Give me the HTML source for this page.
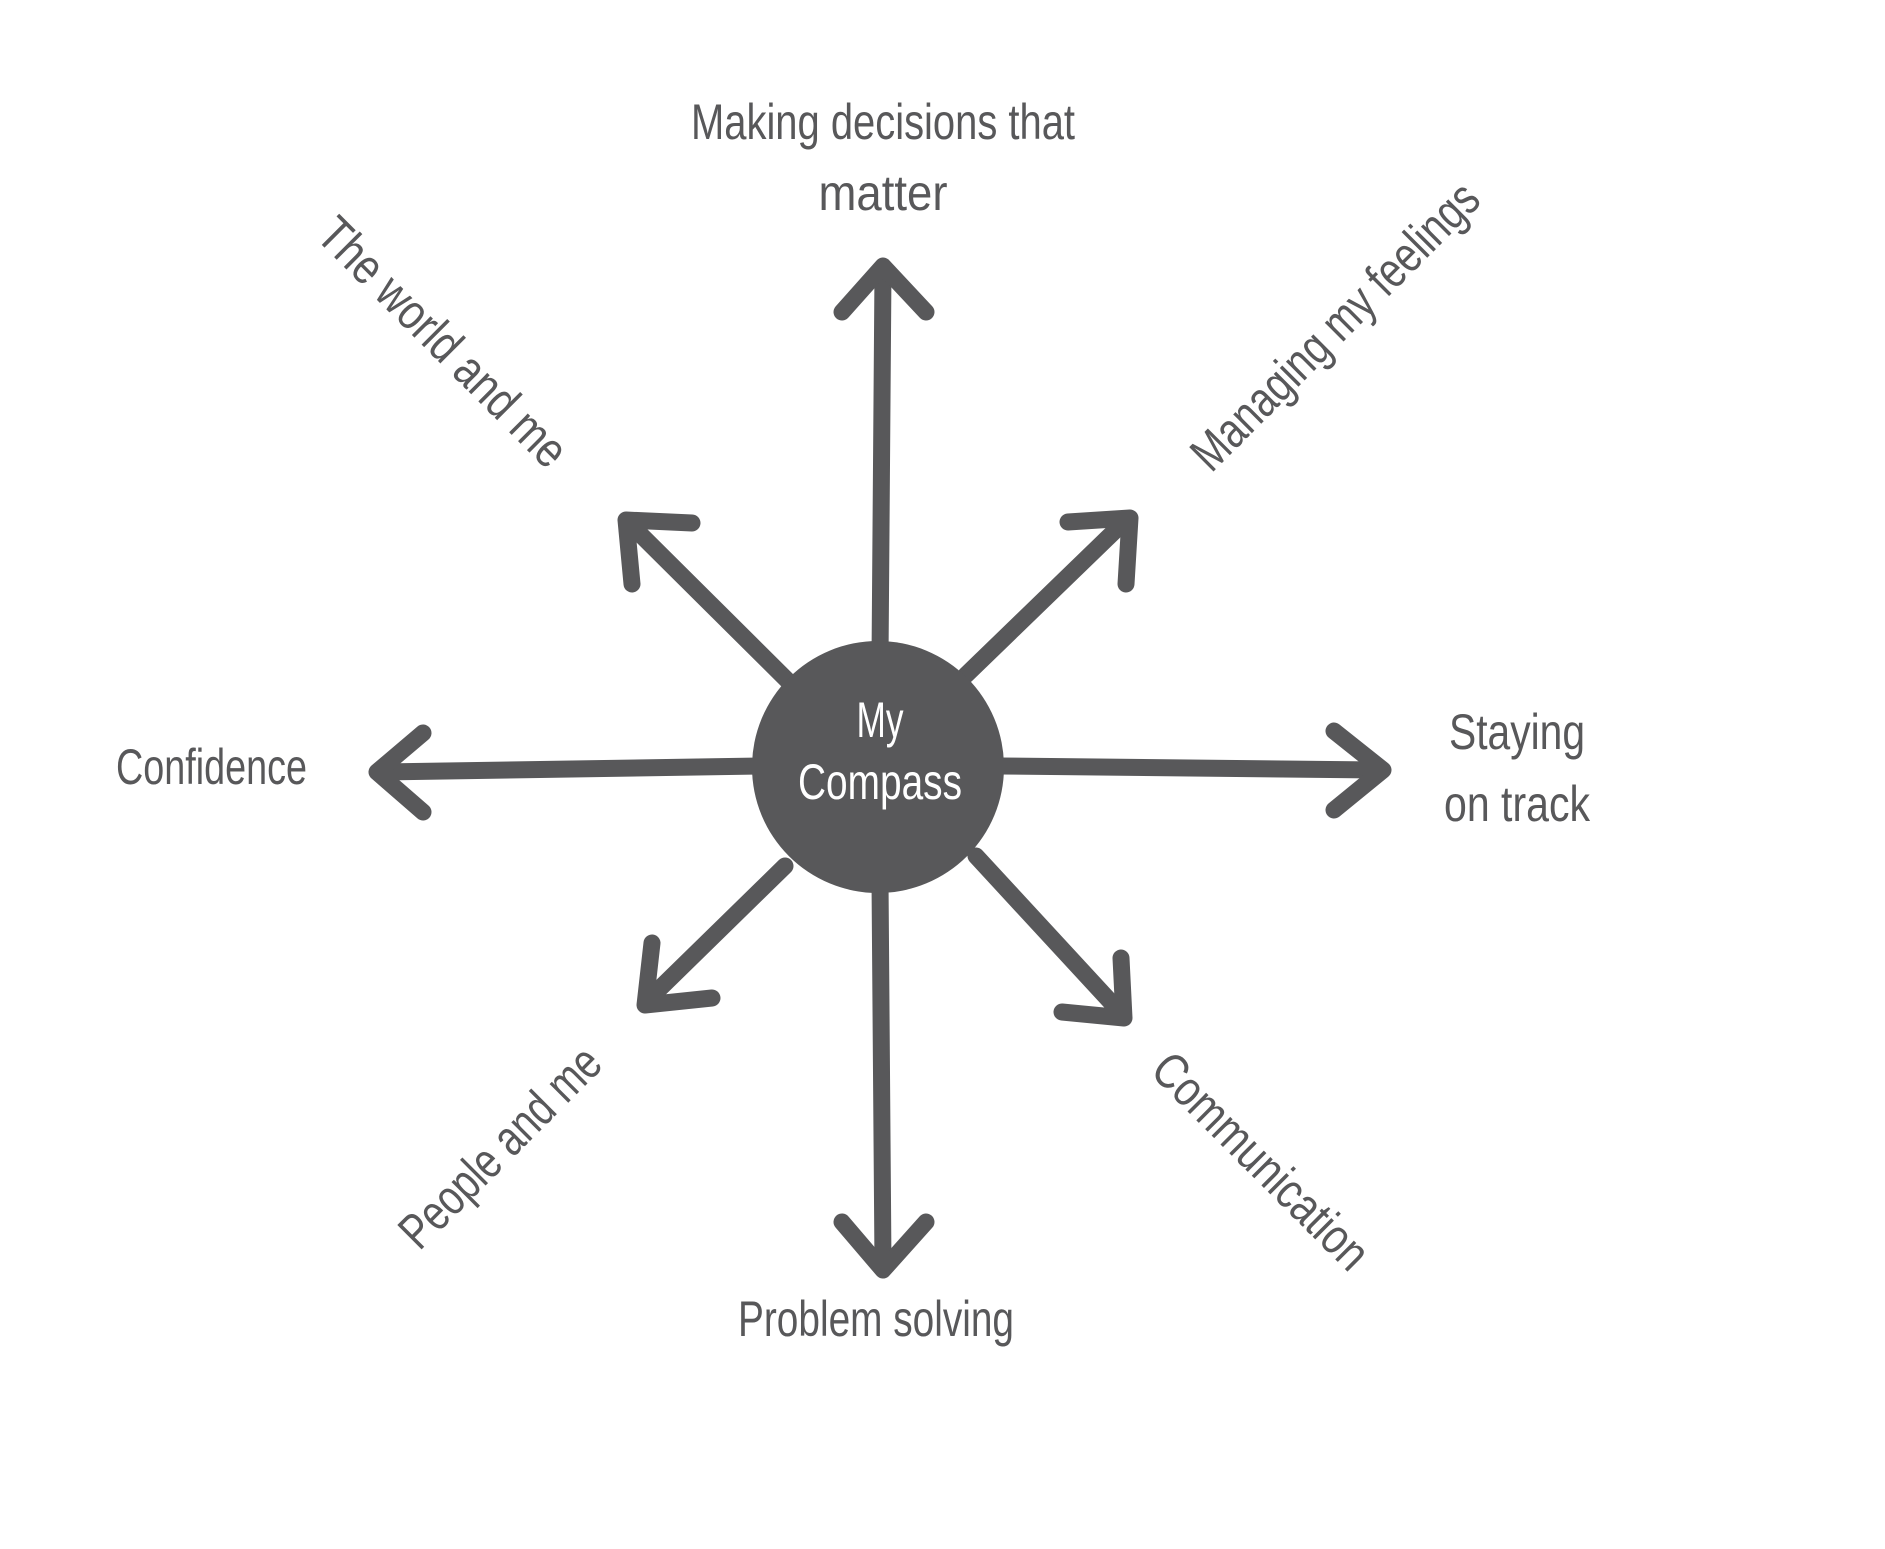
<!DOCTYPE html>
<html><head><meta charset="utf-8"><style>
html,body{margin:0;padding:0;background:#fff;}
svg{display:block}
text{font-family:"Liberation Sans Narrow","Liberation Sans",sans-serif;fill:#58585a;font-size:50px;}
</style></head><body>
<svg width="1885" height="1549" viewBox="0 0 1885 1549" xmlns="http://www.w3.org/2000/svg">
<g stroke="#58585a" stroke-width="17" stroke-linecap="round" stroke-linejoin="round" fill="none">
<path d="M880 660 L883 270"/><path d="M842 312 L883 266 L926 312"/>
<path d="M880 880 L883 1265"/><path d="M842 1222 L883 1270 L926 1222"/>
<path d="M760 766 L382 772"/><path d="M423 733 L377 772 L423 812"/>
<path d="M1000 766 L1378 770"/><path d="M1334 731 L1383 770 L1334 810"/>
<path d="M795 688 L630 524"/><path d="M692 523 L626 520 L632 584"/>
<path d="M966 675 L1124 522"/><path d="M1068 522 L1130 518 L1126 584"/>
<path d="M785 866 L648 1000"/><path d="M652 943 L645 1005 L712 998"/>
<path d="M976 856 L1120 1012"/><path d="M1121 958 L1124 1018 L1062 1012"/>
</g>
<circle cx="878" cy="767" r="126" fill="#58585a"/>
<text x="880" y="737" text-anchor="middle" style="fill:#fff" textLength="47" lengthAdjust="spacingAndGlyphs">My</text>
<text x="880" y="799" text-anchor="middle" style="fill:#fff" textLength="164" lengthAdjust="spacingAndGlyphs">Compass</text>

<text x="883" y="139" text-anchor="middle" textLength="384" lengthAdjust="spacingAndGlyphs">Making decisions that</text>
<text x="883" y="210" text-anchor="middle" textLength="129" lengthAdjust="spacingAndGlyphs">matter</text>
<text x="116" y="784" textLength="191" lengthAdjust="spacingAndGlyphs">Confidence</text>
<text x="1517" y="749" text-anchor="middle" textLength="136" lengthAdjust="spacingAndGlyphs">Staying</text>
<text x="1517" y="821" text-anchor="middle" textLength="146" lengthAdjust="spacingAndGlyphs">on track</text>
<text x="876" y="1336" text-anchor="middle" textLength="276" lengthAdjust="spacingAndGlyphs">Problem solving</text>

<text transform="translate(443,342) rotate(45)" text-anchor="middle" dominant-baseline="central" textLength="330" lengthAdjust="spacingAndGlyphs">The world and me</text>
<text transform="translate(1335,326) rotate(-45)" text-anchor="middle" dominant-baseline="central" textLength="384" lengthAdjust="spacingAndGlyphs">Managing my feelings</text>
<text transform="translate(500,1147) rotate(-45)" text-anchor="middle" dominant-baseline="central" textLength="262" lengthAdjust="spacingAndGlyphs">People and me</text>
<text transform="translate(1261,1161) rotate(45)" text-anchor="middle" dominant-baseline="central" textLength="284" lengthAdjust="spacingAndGlyphs">Communication</text>
</svg>
</body></html>
